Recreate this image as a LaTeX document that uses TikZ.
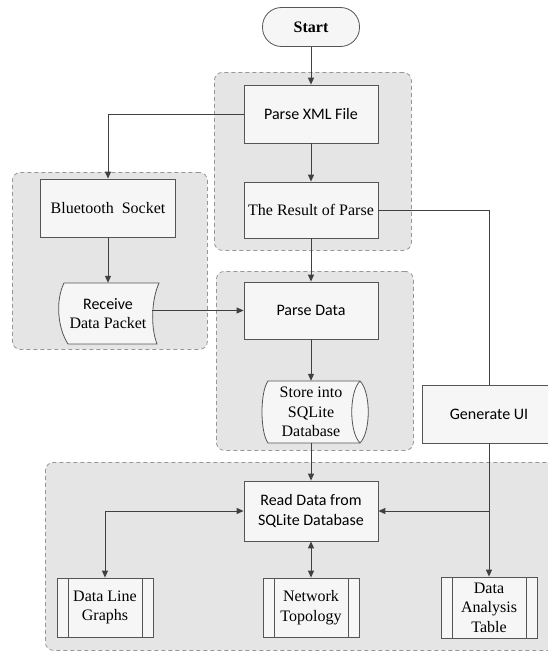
\documentclass[tikz,border=0pt]{standalone}
\usepackage{fontspec}
\setmainfont{Liberation Serif}
\newfontfamily\calibrifont{Carlito}
\usetikzlibrary{arrows.meta, backgrounds, calc}
\definecolor{lineGray}{RGB}{64,64,64}
\definecolor{boxBorder}{RGB}{85,85,85}
\definecolor{boxFill}{RGB}{246,246,246}
\definecolor{groupFill}{RGB}{229,229,229}
\definecolor{groupDash}{RGB}{150,150,150}
\def\colLeft{108}
\def\colMid{311}
\def\colRight{489}
\def\colGraph{105}
\def\rowStart{27}
\def\rowXml{114}
\def\rowResult{210}
\def\rowBlue{208}
\def\rowParse{310.5}
\def\rowRecv{313.5}
\def\rowStore{412}
\def\rowGen{414}
\def\rowRead{511}
\def\rowBottom{607.5}

\begin{document}
\begin{tikzpicture}[
    x=1pt, y=-1pt,
    >={Triangle[length=7pt, width=6pt]},
    arrow/.style    ={->, line width=1pt, lineGray},
    biarrow/.style  ={<->, line width=1pt, lineGray},
    plainline/.style={line width=1pt, lineGray},
    sansText/.style ={font=\calibrifont\fontsize{16}{19.5}\selectfont},
    serifText/.style={font=\rmfamily\fontsize{16}{19.5}\selectfont},
    procBox/.style  ={rectangle, draw=boxBorder, fill=boxFill, line width=0.8pt,
                      minimum width=134, minimum height=58, align=center},
    subBox/.style   ={rectangle, draw=boxBorder, fill=boxFill, line width=0.8pt,
                      minimum width=96, minimum height=60, align=center, serifText,
                      path picture={
                        \draw[boxBorder, line width=0.8pt]
                          ([xshift=11pt]path picture bounding box.north west) --
                          ([xshift=11pt]path picture bounding box.south west)
                          ([xshift=-11pt]path picture bounding box.north east) --
                          ([xshift=-11pt]path picture bounding box.south east);}},
    shapeLine/.style={draw=boxBorder, fill=boxFill, line width=0.8pt},
    groupBox/.style ={rectangle, draw=groupDash, fill=groupFill, line width=0.8pt,
                      dash pattern=on 4pt off 3pt, rounded corners=8pt, anchor=north west},
]
\useasboundingbox (0,0) rectangle (547,653);

% =====================================================
% TOP: start and XML parsing
% =====================================================
\node[rectangle, draw=boxBorder, fill=boxFill, line width=0.8pt, rounded corners=19pt,
      minimum width=97, minimum height=39, font=\rmfamily\bfseries\fontsize{16}{19.5}\selectfont]
                     (start)   at (\colMid,\rowStart)  {Start};
\node[procBox, sansText]  (parsexml) at (\colMid,\rowXml)    {Parse XML File};
\node[procBox, serifText, minimum height=56]
                          (result)   at (\colMid,\rowResult) {The Result of Parse};

% =====================================================
% LEFT: bluetooth input
% =====================================================
\node[procBox, serifText, minimum width=135] (bluetooth) at (\colLeft,\rowBlue) {Bluetooth~ Socket};

% Receive Data Packet outline (curved sides)
\begin{scope}[shift={(\colLeft,\rowRecv)}]
  \path[shapeLine] (-44,-30.5) -- (51,-30.5) .. controls (44,-15) and (42,12) .. (49,30.5)
                   -- (-40,30.5) .. controls (-50,15) and (-53,-12) .. cycle;
\end{scope}
\node[minimum width=88, minimum height=61, align=center, serifText]
                          (receive)  at (\colLeft,\rowRecv) {\calibrifont Receive\\\rmfamily Data Packet};

% =====================================================
% MIDDLE: parse and store
% =====================================================
\node[procBox, sansText, minimum height=57] (parsedata) at (\colMid,\rowParse) {Parse Data};

% Store into SQLite outline (horizontal cylinder)
\begin{scope}[shift={(\colMid,\rowStore)}]
  \path[shapeLine] (-43,-31) -- (49,-31) .. controls (60,-20) and (60,20) .. (49,31)
                   -- (-43,31) .. controls (-51,20) and (-51,-20) .. cycle;
  \draw[boxBorder, line width=0.8pt] (49,-31) .. controls (38,-20) and (38,20) .. (49,31);
\end{scope}
\node[minimum width=96, minimum height=62, align=center, serifText]
                          (store)    at (\colMid,\rowStore) {Store into\\SQLite\\Database};

% =====================================================
% RIGHT: user interface
% =====================================================
\node[procBox, sansText]  (genui)    at (\colRight,\rowGen)  {Generate UI};

% =====================================================
% BOTTOM: read and display
% =====================================================
\node[procBox, sansText, minimum height=60] (readdata) at (\colMid,\rowRead) {Read Data from\\SQLite Database};
\node[subBox, minimum height=59] (graphs)   at (\colGraph,\rowBottom) {Data Line\\Graphs};
\node[subBox, minimum height=59] (topology) at (\colMid,\rowBottom)   {Network\\Topology};
\node[subBox, minimum height=61] (analysis) at (\colRight,\rowBottom) {Data\\Analysis\\Table};

% =====================================================
% Connecting arrows
% =====================================================
\draw[arrow] (start.south)    -- (parsexml.north);
\draw[arrow] (parsexml.west)  -| (bluetooth.north);
\draw[arrow] (parsexml.south) -- (result.north);
\draw[arrow] (result.south)   -- (parsedata.north);
\draw[arrow] (bluetooth.south) -- (receive.north);
\draw[arrow] (receive.east |- parsedata.west) -- (parsedata.west);
\draw[arrow] (parsedata.south) -- (store.north);
\draw[arrow] (store.south)    -- (readdata.north);
\draw[plainline] (result.east) -| (genui.north);

% Generate UI trunk + branch
\coordinate (branch) at (genui.south |- readdata.east);
\draw[arrow] (genui.south) -- (analysis.north);
\draw[arrow] (branch) -- (readdata.east);

% Bidirectional
\draw[biarrow] (readdata.west)  -| (graphs.north);
\draw[biarrow] (readdata.south) -- (topology.north);

% =====================================================
% Background dashed groups
% =====================================================
\begin{scope}[on background layer]
    \node[groupBox, minimum width=197, minimum height=178] (xmlgroup)   at (214,72)  {};
    \node[groupBox, minimum width=195, minimum height=177] (btgroup)    at (12,172)  {};
    \node[groupBox, minimum width=197, minimum height=179] (parsegroup) at (216,271) {};
    \node[groupBox, minimum width=530, minimum height=188] (showgroup)  at (45,462)  {};
\end{scope}

\end{tikzpicture}
\end{document}
